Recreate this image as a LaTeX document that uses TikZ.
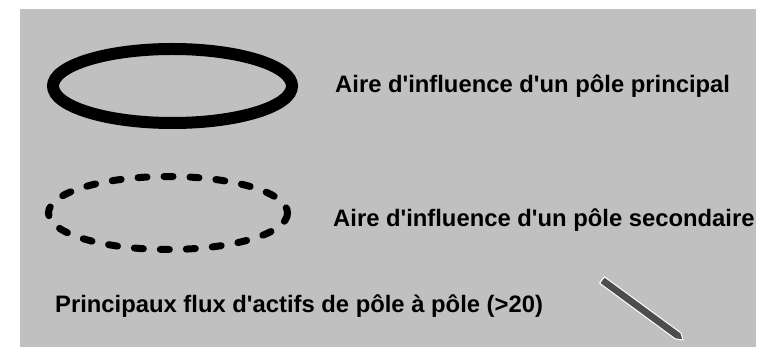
\documentclass[tikz,border=0pt]{standalone}
\usepackage{fontspec}
\setmainfont{Liberation Sans}
\definecolor{fond}{HTML}{C0C0C0}
\definecolor{flux}{HTML}{4D4D4D}
\newcommand{\apos}{\textquotesingle}

\begin{document}
\begin{tikzpicture}[x=1pt,y=-1pt,
  legende/.style={anchor=base west,inner sep=0pt,font=\fontsize{23.8}{28}\selectfont\bfseries}]
  \useasboundingbox (0,0) rectangle (775,347);
  \fill[white] (0,0) rectangle (775,347);
  % fond gris
  \fill[fond] (20,9) rectangle (756,347);
  % pole principal (trait plein)
  \draw[line width=12pt] (172.5,86) ellipse [x radius=119.5,y radius=37];
  \node[legende] (principal) at (335,93){Aire d\apos influence d\apos un pôle principal};
  % pole secondaire (tirets)
  \draw[line width=7pt,line cap=round,dash pattern=on 9pt off 17pt] (168,213) ellipse [x radius=119.5,y radius=36.5];
  \node[legende] (secondaire) at (333,226){Aire d\apos influence d\apos un pôle secondaire};
  % flux
  \node[legende] (flux) at (55,312.5){Principaux flux d\apos actifs de pôle à pôle (>20)};
  \filldraw[fill=flux,draw=white,line width=1pt] (604.4,276.8)--(681,333)--(683,340)--(675.3,338.9)--(599.6,283.2)--cycle;
\end{tikzpicture}
\end{document}
